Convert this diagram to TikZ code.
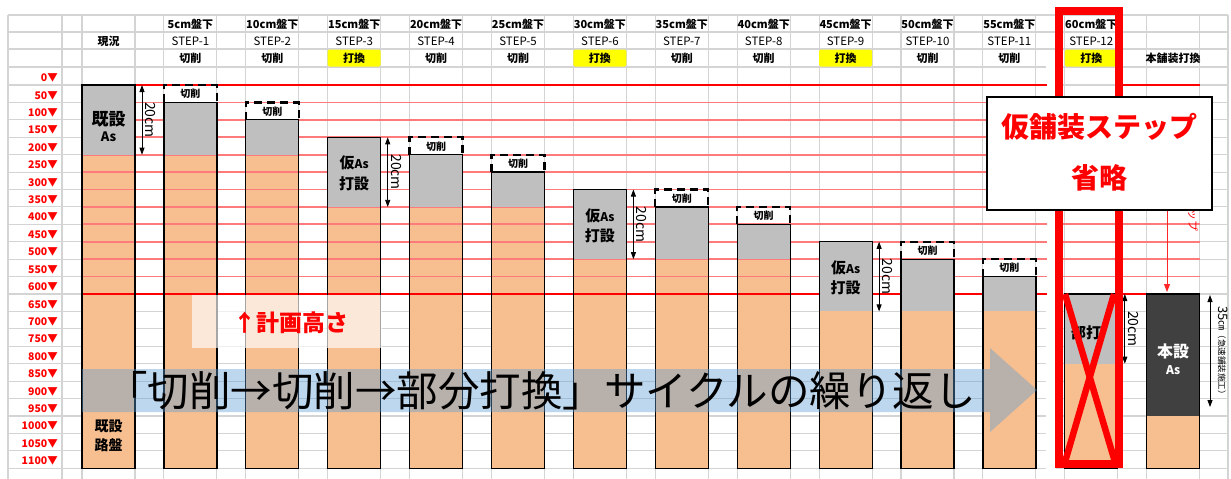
\documentclass[tikz,border=0pt]{standalone}
\usepackage{fontspec}
\setmainfont{Noto Sans CJK JP}
\usetikzlibrary{arrows.meta}
\definecolor{gridc}{HTML}{D4D4D4}
\definecolor{pinkl}{HTML}{FF7A7A}
\definecolor{redl}{HTML}{FF0000}
\definecolor{orng}{HTML}{F7BF90}
\definecolor{gry}{HTML}{BFBFBF}
\definecolor{dk}{HTML}{404040}
\definecolor{blu}{HTML}{5B9BD5}
\definecolor{yel}{HTML}{FFFF00}
\newcommand\fsz[1]{\fontsize{#1}{#1}\selectfont}
\pgfmathdeclarefunction{lv}{1}{\pgfmathparse{85+#1*0.34836}}
\tikzset{
  gridline/.style={gridc, line width=1.1},
  pinkline/.style={pinkl, line width=1.7},
  redline/.style={redl, line width=2.5},
  colbox/.style={black, line width=1.2},
  cutbox/.style={black, line width=2.3, dash pattern=on 8pt off 5pt},
  hdr/.style={font=\fsz{11.5}, inner sep=0},
  hdrb/.style={font=\fsz{11}\bfseries, inner sep=0},
  lvlab/.style={font=\fsz{10.5}\bfseries, text=redl, anchor=east, inner sep=0},
  cutlab/.style={font=\fsz{10}\bfseries, inner sep=0},
  dimarrow/.style={{Triangle[length=7,width=5]}-{Triangle[length=7,width=5]}, line width=0.8},
  dimlab/.style={font=\fsz{14}, rotate=-90, inner sep=0},
  collab/.style={font=\bfseries, align=center, inner sep=0},
}
\begin{document}
\begin{tikzpicture}[x=1pt,y=-1pt]
\useasboundingbox (0,0) rectangle (1231,479);
\fill[white] (0,0) rectangle (1231,479);
% grid
\foreach \yy in {15,32,49,67} \draw[gridline] (8,\yy) -- (1228,\yy);
\foreach \k in {0,...,23} \draw[gridline] (8,{85+17.42*\k}) -- (1228,{85+17.42*\k});
\foreach \xx in {8,62,1228} \draw[gridline] (\xx,15) -- (\xx,479);
\foreach \i in {0,...,13} {
  \pgfmathsetmacro\L{82+81.9*\i}
  \draw[gridline] (\L,15) -- (\L,479);
  \draw[gridline] ({\L+53},15) -- ({\L+53},479);
}
\fill[white] (1046,64) rectangle (1056,479);
% yellow cells
\foreach \i in {3,6,9,12} {
  \pgfmathsetmacro\L{82+81.9*\i}
  \fill[yel, rounded corners=1.5] (\L,49.5) rectangle ({\L+53},66.5);
}
% header texts
\foreach \i in {1,...,12} {
  \pgfmathsetmacro\C{82+81.9*\i+26.5}
  \pgfmathtruncatemacro\cm{5*\i}
  \pgfmathtruncatemacro\md{mod(\i,3)}
  \node[hdrb] (ha\i) at (\C,24) {\cm cm盤下};
  \node[hdr] (hb\i) at (\C,41) {STEP-\i};
  \ifnum\md=0
    \node[hdrb] (hc\i) at (\C,58.5) {打換};
  \else
    \node[hdrb] (hc\i) at (\C,58.5) {切削};
  \fi
}
\node[hdrb] (hb0) at (108.5,41) {現況};
\node[hdrb] (hc13) at (1173.2,58.5) {本舗装打換};
% level labels
\foreach \k in {0,...,22} {
  \pgfmathtruncatemacro\v{50*\k}
  \node[lvlab] (lv\k) at (58,{78+17.42*\k}) {\v▼};
}
% columns: orange base
\foreach \i/\top in {0/0,1/50,2/100,3/150,4/200,5/250,6/300,7/350,8/400,9/450,10/500,11/550,12/600,13/600} {
  \pgfmathsetmacro\L{82+81.9*\i}
  \fill[orng] (\L,{lv(\top)}) rectangle ({\L+53},{lv(1100)});
}
% pink lines
\foreach \k in {1,...,11} {
  \draw[pinkline] (82,{lv(50*\k)}) -- (1047,{lv(50*\k)});
  \draw[pinkline] (1063,{lv(50*\k)}) -- (1200,{lv(50*\k)});
}
\draw[redline] (82,{lv(0)}) -- (1047,{lv(0)});
\draw[redline] (1120,{lv(0)}) -- (1200,{lv(0)});
\draw[redline] (82,{lv(600)}) -- (1047,{lv(600)});
\draw[redline] (1120,{lv(600)}) -- (1200,{lv(600)});
% gray layers, outlines, cut boxes
\foreach \i/\top/\dash/\gb in {0/0/-1/200,1/50/0/200,2/100/50/200,3/150/-1/350,4/200/150/350,5/250/200/350,6/300/-1/500,7/350/300/500,8/400/350/500,9/450/-1/650,10/500/450/650,11/550/500/650,12/600/-1/800} {
  \pgfmathsetmacro\L{82+81.9*\i}
  \fill[gry] (\L,{lv(\top)}) rectangle ({\L+53},{lv(\gb)});
  \draw[colbox] (\L,{lv(\top)}) rectangle ({\L+53},{lv(1100)});
  \ifnum\dash<0 \else
    \draw[cutbox] (\L,{lv(\top)}) -- (\L,{lv(\dash)}) -- ({\L+53},{lv(\dash)}) -- ({\L+53},{lv(\top)});
    \node[cutlab] (cut\i) at ({\L+26.5},{lv(\dash)+9}) {切削};
  \fi
}
% final pavement column
\fill[dk] (1146.7,{lv(600)}) rectangle (1199.7,{lv(950)});
\draw[colbox] (1146.7,{lv(600)}) rectangle (1199.7,{lv(1100)});
% column labels
\node[collab] (exas) at (108.5,127) {{\fsz{17}既設}\\[4pt]{\fsz{13}As}};
\node[collab] (exbase) at (108.5,436) {{\fsz{14}既設}\\[5pt]{\fsz{14}路盤}};
\foreach \i/\top in {3/150,6/300,9/450} {
  \pgfmathsetmacro\C{82+81.9*\i+26.5}
  \node[collab] (tmp\i) at (\C,{lv(\top)+36}) {{\fsz{15}仮}{\fsz{12}As}\\[5pt]{\fsz{15}打設}};
}
\node[collab, font=\fsz{15}\bfseries] (part12) at (1086,333) {部打};
\node[collab, text=white] (main13) at (1173.2,359) {{\fsz{16}本設}\\[5pt]{\fsz{12}As}};
% dimension arrows
\foreach \i/\a/\b in {0/0/200,3/150/350,6/300/500,9/450/650,12/600/800} {
  \pgfmathsetmacro\R{82+81.9*\i+53}
  \coordinate (da\i) at ({\R+7},{lv(\a)});
  \coordinate (db\i) at ({\R+7},{lv(\b)});
  \draw[dimarrow] (da\i) -- (db\i);
  \node[dimlab] (dl\i) at ({\R+15.5},{lv((\a+\b)/2)}) {20cm};
}
\coordinate (fa) at (1210,295);
\coordinate (fb) at (1210,407);
\draw[dimarrow] (fa) -- (fb);
\node[rotate=-90, inner sep=0, anchor=west] (fl) at (1223,306) {{\fsz{13}35}{\fsz{10}㎝}{\fsz{8.5}（急速舗装施工）}};
% planned height box
\fill[white, opacity=0.65] (192,295) rectangle (382,348);
\node[font=\fsz{23}\bfseries, text=redl, inner sep=0] (plan) at (291,323) {↑計画高さ};
% cycle arrow
\fill[blu, opacity=0.4] (82,369) -- (990,369) -- (990,348) -- (1037,390) -- (990,432) -- (990,412) -- (82,412) -- cycle;
\node[font=\fsz{41.5}, inner sep=0] (cyc) at (541,391) {「切削→切削→部分打換」サイクルの繰り返し};
% crossed-out step 12
\draw[redl, line width=8] (1059,11) rectangle (1119,463.5);
\coordinate (x1) at (1065,294);
\coordinate (x2) at (1115,462);
\coordinate (x3) at (1114,294);
\coordinate (x4) at (1065,462);
\draw[redl, line width=6.5] (x1) -- (x2);
\draw[redl, line width=6.5] (x3) -- (x4);
% skip note
\coordinate (ra1) at (1167,205);
\coordinate (ra2) at (1167,292);
\draw[-{Triangle[length=8,width=6]}, redl!85, line width=0.9] (ra1) -- (ra2);
\node[font=\fsz{11}, text=redl, rotate=-90, anchor=east, inner sep=0] (rtx) at (1193,232) {60cmステップ};
\node[draw, fill=white, line width=1.2, minimum width=225, minimum height=113, inner sep=0] (skip) at (1099.5,153.5) {};
\node[font=\fsz{28}\bfseries, text=redl, inner sep=0] (skip1) at (1099.5,127) {仮舗装ステップ};
\node[font=\fsz{28}\bfseries, text=redl, inner sep=0] (skip2) at (1099.5,178) {省略};
\end{tikzpicture}
\end{document}
